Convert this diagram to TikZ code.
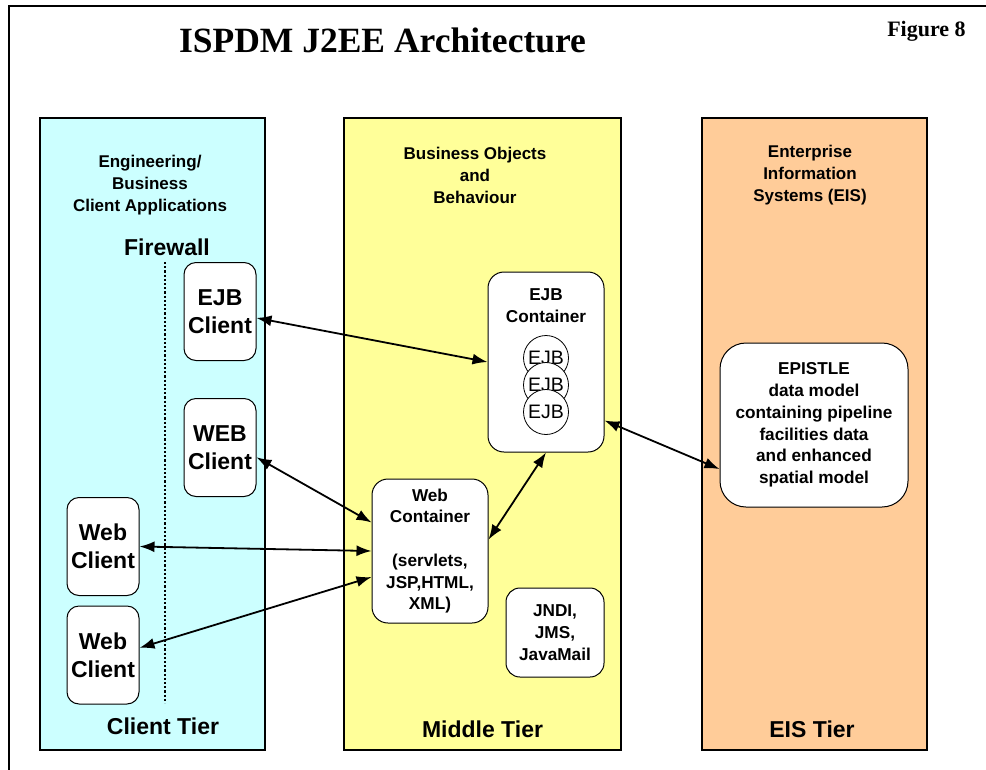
\documentclass[tikz,border=0pt]{standalone}
\usepackage{fontspec}
\setmainfont{Liberation Sans}
\newfontfamily\serifbold{Liberation Serif}
\usepackage{xcolor}
\usepackage{tikz}
\usetikzlibrary{positioning, arrows.meta}
\definecolor{clientcol}{HTML}{CCFFFF}
\definecolor{middlecol}{HTML}{FFFF99}
\definecolor{eiscol}{HTML}{FFCC99}

\tikzset{
  tier/.style={draw, line width=2pt, inner sep=0pt},
  heading/.style={align=center, font=\bfseries\fontsize{17}{21.8}\selectfont},
  tierlabel/.style={font=\bfseries\fontsize{23}{26}\selectfont},
  clientbox/.style={draw, fill=white, line width=1pt, rounded corners=12pt, align=center,
    minimum width=72pt, minimum height=98pt, inner sep=0pt, font=\bfseries\fontsize{23}{28}\selectfont},
  contbox/.style={draw, fill=white, line width=1pt, rounded corners=16pt, align=center,
    inner sep=0pt, font=\bfseries\fontsize{17.2}{21.7}\selectfont},
  ejbbean/.style={circle, draw, fill=white, line width=0.8pt, minimum size=45pt, inner sep=0pt,
    font=\fontsize{19.5}{20}\selectfont},
  link/.style={<->, >={Latex[length=15pt,width=11pt]}, line width=1.8pt}
}

\begin{document}
\begin{tikzpicture}[x=1pt, y=-1pt]
    \useasboundingbox (0,0) rectangle (986,769);

    % Rahmen und Titel
    \draw[line width=2pt] (9,780) -- (9,6) -- (1000,6);
    \node[font=\serifbold\bfseries\fontsize{35.5}{40}\selectfont] (title) at (382.5,40) {ISPDM J2EE Architecture};
    \node[font=\serifbold\bfseries\fontsize{22}{26}\selectfont] (fig) at (926.5,31) {Figure 8};

    % Schichten
    \node[tier, fill=clientcol, minimum width=225pt, minimum height=632pt] (clienttier) at (152.5,434) {};
    \node[tier, fill=middlecol, minimum width=277pt, minimum height=632pt] (middletier) at (482.5,434) {};
    \node[tier, fill=eiscol, minimum width=225pt, minimum height=632pt] (eistier) at (814.5,434) {};

    \node[heading] (clienthead) at (150,185) {Engineering/\\Business\\Client Applications};
    \node[heading] (middlehead) at (475,175.5) {Business Objects\\and\\Behaviour};
    \node[heading] (eishead) at (810,175) {Enterprise\\Information\\Systems (EIS)};

    \node[tierlabel] (clientlbl) at (163,726) {Client Tier};
    \node[tierlabel] (middlelbl) at (482.5,729) {Middle Tier};
    \node[tierlabel] (eislbl) at (812,729) {EIS Tier};

    % Firewall
    \node[font=\bfseries\fontsize{23}{26}\selectfont] (firewall) at (167,247) {Firewall};
    \coordinate (fwtop) at (165,262);
    \coordinate (fwbot) at (165,703);
    \draw[line width=2.2pt, dotted] (fwtop) -- (fwbot);

    % Clients
    \node[clientbox] (ejbcl) at (220,311.5) {EJB\\Client};
    \node[clientbox] (webcl) at (220,447.5) {WEB\\Client};
    \node[clientbox] (web1) at (103,546.5) {Web\\Client};
    \node[clientbox] (web2) at (103,655) {Web\\Client};

    % Container
    \node[contbox, minimum width=116pt, minimum height=180pt] (ejbcont) at (546,362) {};
    \node[align=center, font=\bfseries\fontsize{17.2}{21.7}\selectfont] (ejbcontlbl) at (546,306) {EJB\\Container};
    \foreach \i/\y in {1/358, 2/385, 3/412}
      \node[ejbbean] (bean\i) at (546,\y) {EJB};

    \node[contbox, minimum width=116pt, minimum height=144pt] (webcont) at (430,551)
      {Web\\Container\\[21.7pt](servlets,\\JSP,HTML,\\XML)};
    \node[contbox, rounded corners=14pt, minimum width=98pt, minimum height=89pt] (jndi) at (555,632.5)
      {JNDI,\\JMS,\\JavaMail};
    \node[contbox, rounded corners=26pt, minimum width=188pt, minimum height=164pt] (epistle) at (814,425)
      {EPISTLE\\data model\\containing pipeline\\facilities data\\and enhanced\\spatial model};

    % Verbindungen
    \draw[link] (ejbcl.-10) -- (ejbcont.west);
    \draw[link] (webcl.-15) -- (webcont.154);
    \draw[link] (web1.east) -- (webcont.west);
    \draw[link] (web2.11) -- (webcont.204);
    \draw[link] (webcont.11) -- (ejbcont.south);
    \draw[link] (ejbcont.-45) -- (epistle.205);
\end{tikzpicture}
\end{document}
